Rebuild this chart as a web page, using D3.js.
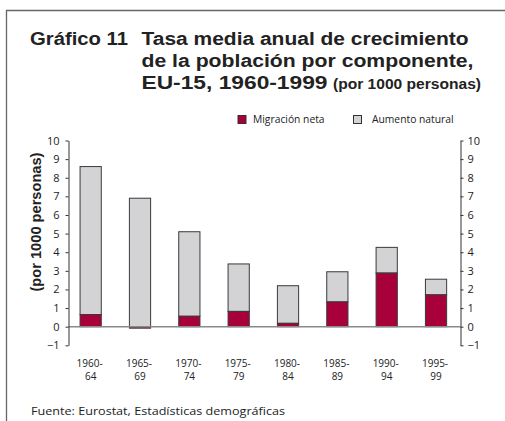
<!DOCTYPE html>
<meta charset='utf-8'>
<script src='https://cdn.jsdelivr.net/npm/d3@7'></script>
<style>
body { margin: 0; background: #fff; }
text { font-family: 'Open Sans', sans-serif; fill: #222; }
.bold { font-family: 'Liberation Sans', Arial, sans-serif; font-weight: bold; }
</style>
<body>
<script>
var periods = ['1960-64', '1965-69', '1970-74', '1975-79', '1980-84', '1985-89', '1990-94', '1995-99'];
var migracion = [0.65, -0.08, 0.56, 0.82, 0.18, 1.33, 2.88, 1.71];
var natural = [7.95, 6.9, 4.54, 2.55, 2.02, 1.62, 1.38, 0.84];
var yTicks = [-1, 0, 1, 2, 3, 4, 5, 6, 7, 8, 9, 10];

var width = 505,
    height = 421;

var svg = d3.select('body').append('svg').attr('width', width).attr('height', height);

// frame
svg.append('path').attr('d', 'M6.5,421V10.5H505')
    .attr('fill', 'none').attr('stroke', '#666').attr('stroke-width', 1.3);

// title (stretched to match the wide original face)
var title = svg.append('g').attr('class', 'bold').attr('font-size', 18);
function tline(x0, y0, w, s) {
  return title.append('text').attr('class', 'bold').attr('x', x0).attr('y', y0)
    .attr('textLength', w).attr('lengthAdjust', 'spacingAndGlyphs').text(s);
}
tline(30, 45, 98, 'Gráfico 11');
tline(141.5, 45, 327, 'Tasa media anual de crecimiento');
tline(141.5, 67, 332, 'de la población por componente,');
tline(141.5, 89, 186, 'EU-15, 1960-1999');
title.append('text').attr('class', 'bold').attr('x', 333).attr('y', 89).attr('font-size', 14.5)
    .attr('textLength', 148).attr('lengthAdjust', 'spacingAndGlyphs').text('(por 1000 personas)');

var axL = 68.5, axR = 460.5;
var x = d3.scaleBand().domain(periods).range([66, 460.7]).paddingInner(0.57).paddingOuter(0.285);
var y = d3.scaleLinear().domain([-1, 10]).range([345.3, 140.5]);

// bars
var g = svg.append('g');
periods.forEach(function(p, i) {
  var m = migracion[i], n = natural[i];
  var base = Math.max(m, 0);
  g.append('rect')
    .attr('x', x(p)).attr('width', x.bandwidth())
    .attr('y', y(base + n)).attr('height', y(base) - y(base + n))
    .attr('fill', '#d3d3d5').attr('stroke', '#3a3a3a').attr('stroke-width', 1);
  g.append('rect')
    .attr('x', x(p)).attr('width', x.bandwidth())
    .attr('y', y(Math.max(m, 0))).attr('height', Math.abs(y(m) - y(0)))
    .attr('fill', '#a8003a').attr('stroke', '#3a3a3a').attr('stroke-width', 1);
});

// zero line
svg.append('line').attr('x1', axL).attr('x2', axR).attr('y1', y(0)).attr('y2', y(0))
    .attr('stroke', '#8a8a8a').attr('stroke-width', 1.5);

// axes
var left = svg.append('g').attr('transform', 'translate(' + axL + ',0)')
    .call(d3.axisLeft(y).tickValues(yTicks).tickSize(3).tickPadding(6).tickSizeOuter(0));
var right = svg.append('g').attr('transform', 'translate(' + axR + ',0)')
    .call(d3.axisRight(y).tickValues(yTicks).tickSize(3).tickPadding(4).tickSizeOuter(0));
[left, right].forEach(function(a) {
  a.select('.domain').attr('stroke', '#333');
  a.selectAll('.tick line').attr('stroke', '#333');
  a.selectAll('text').attr('font-size', 11).attr('font-family', "'Open Sans', sans-serif").attr('fill', '#222');
});

// y title
svg.append('text').attr('class', 'bold')
    .attr('transform', 'translate(41,' + 222 + ') rotate(-90)')
    .attr('text-anchor', 'middle').attr('font-size', 14)
    .attr('textLength', 139).attr('lengthAdjust', 'spacingAndGlyphs')
    .text('(por 1000 personas)');

// x labels
var xl = svg.append('g').attr('font-size', 10).attr('text-anchor', 'middle');
periods.forEach(function(p) {
  var parts = p.split('-');
  var cx = x(p) + x.bandwidth() / 2;
  xl.append('text').attr('x', cx - 1).attr('y', 367).text(parts[0] + '-');
  xl.append('text').attr('x', cx).attr('y', 380).text(parts[1]);
});

// legend
var leg = svg.append('g').attr('font-size', 10.3);
leg.append('rect').attr('x', 238).attr('y', 115.5).attr('width', 8).attr('height', 8)
    .attr('fill', '#a8003a').attr('stroke', '#333');
leg.append('text').attr('x', 253).attr('y', 123).text('Migración neta');
leg.append('rect').attr('x', 353.5).attr('y', 115.5).attr('width', 8).attr('height', 8)
    .attr('fill', '#d3d3d5').attr('stroke', '#333');
leg.append('text').attr('x', 372).attr('y', 123).text('Aumento natural');

// source
svg.append('text').attr('x', 31).attr('y', 415).attr('font-size', 11.5)
    .attr('textLength', 254).attr('lengthAdjust', 'spacingAndGlyphs')
    .text('Fuente: Eurostat, Estadísticas demográficas');
</script>
